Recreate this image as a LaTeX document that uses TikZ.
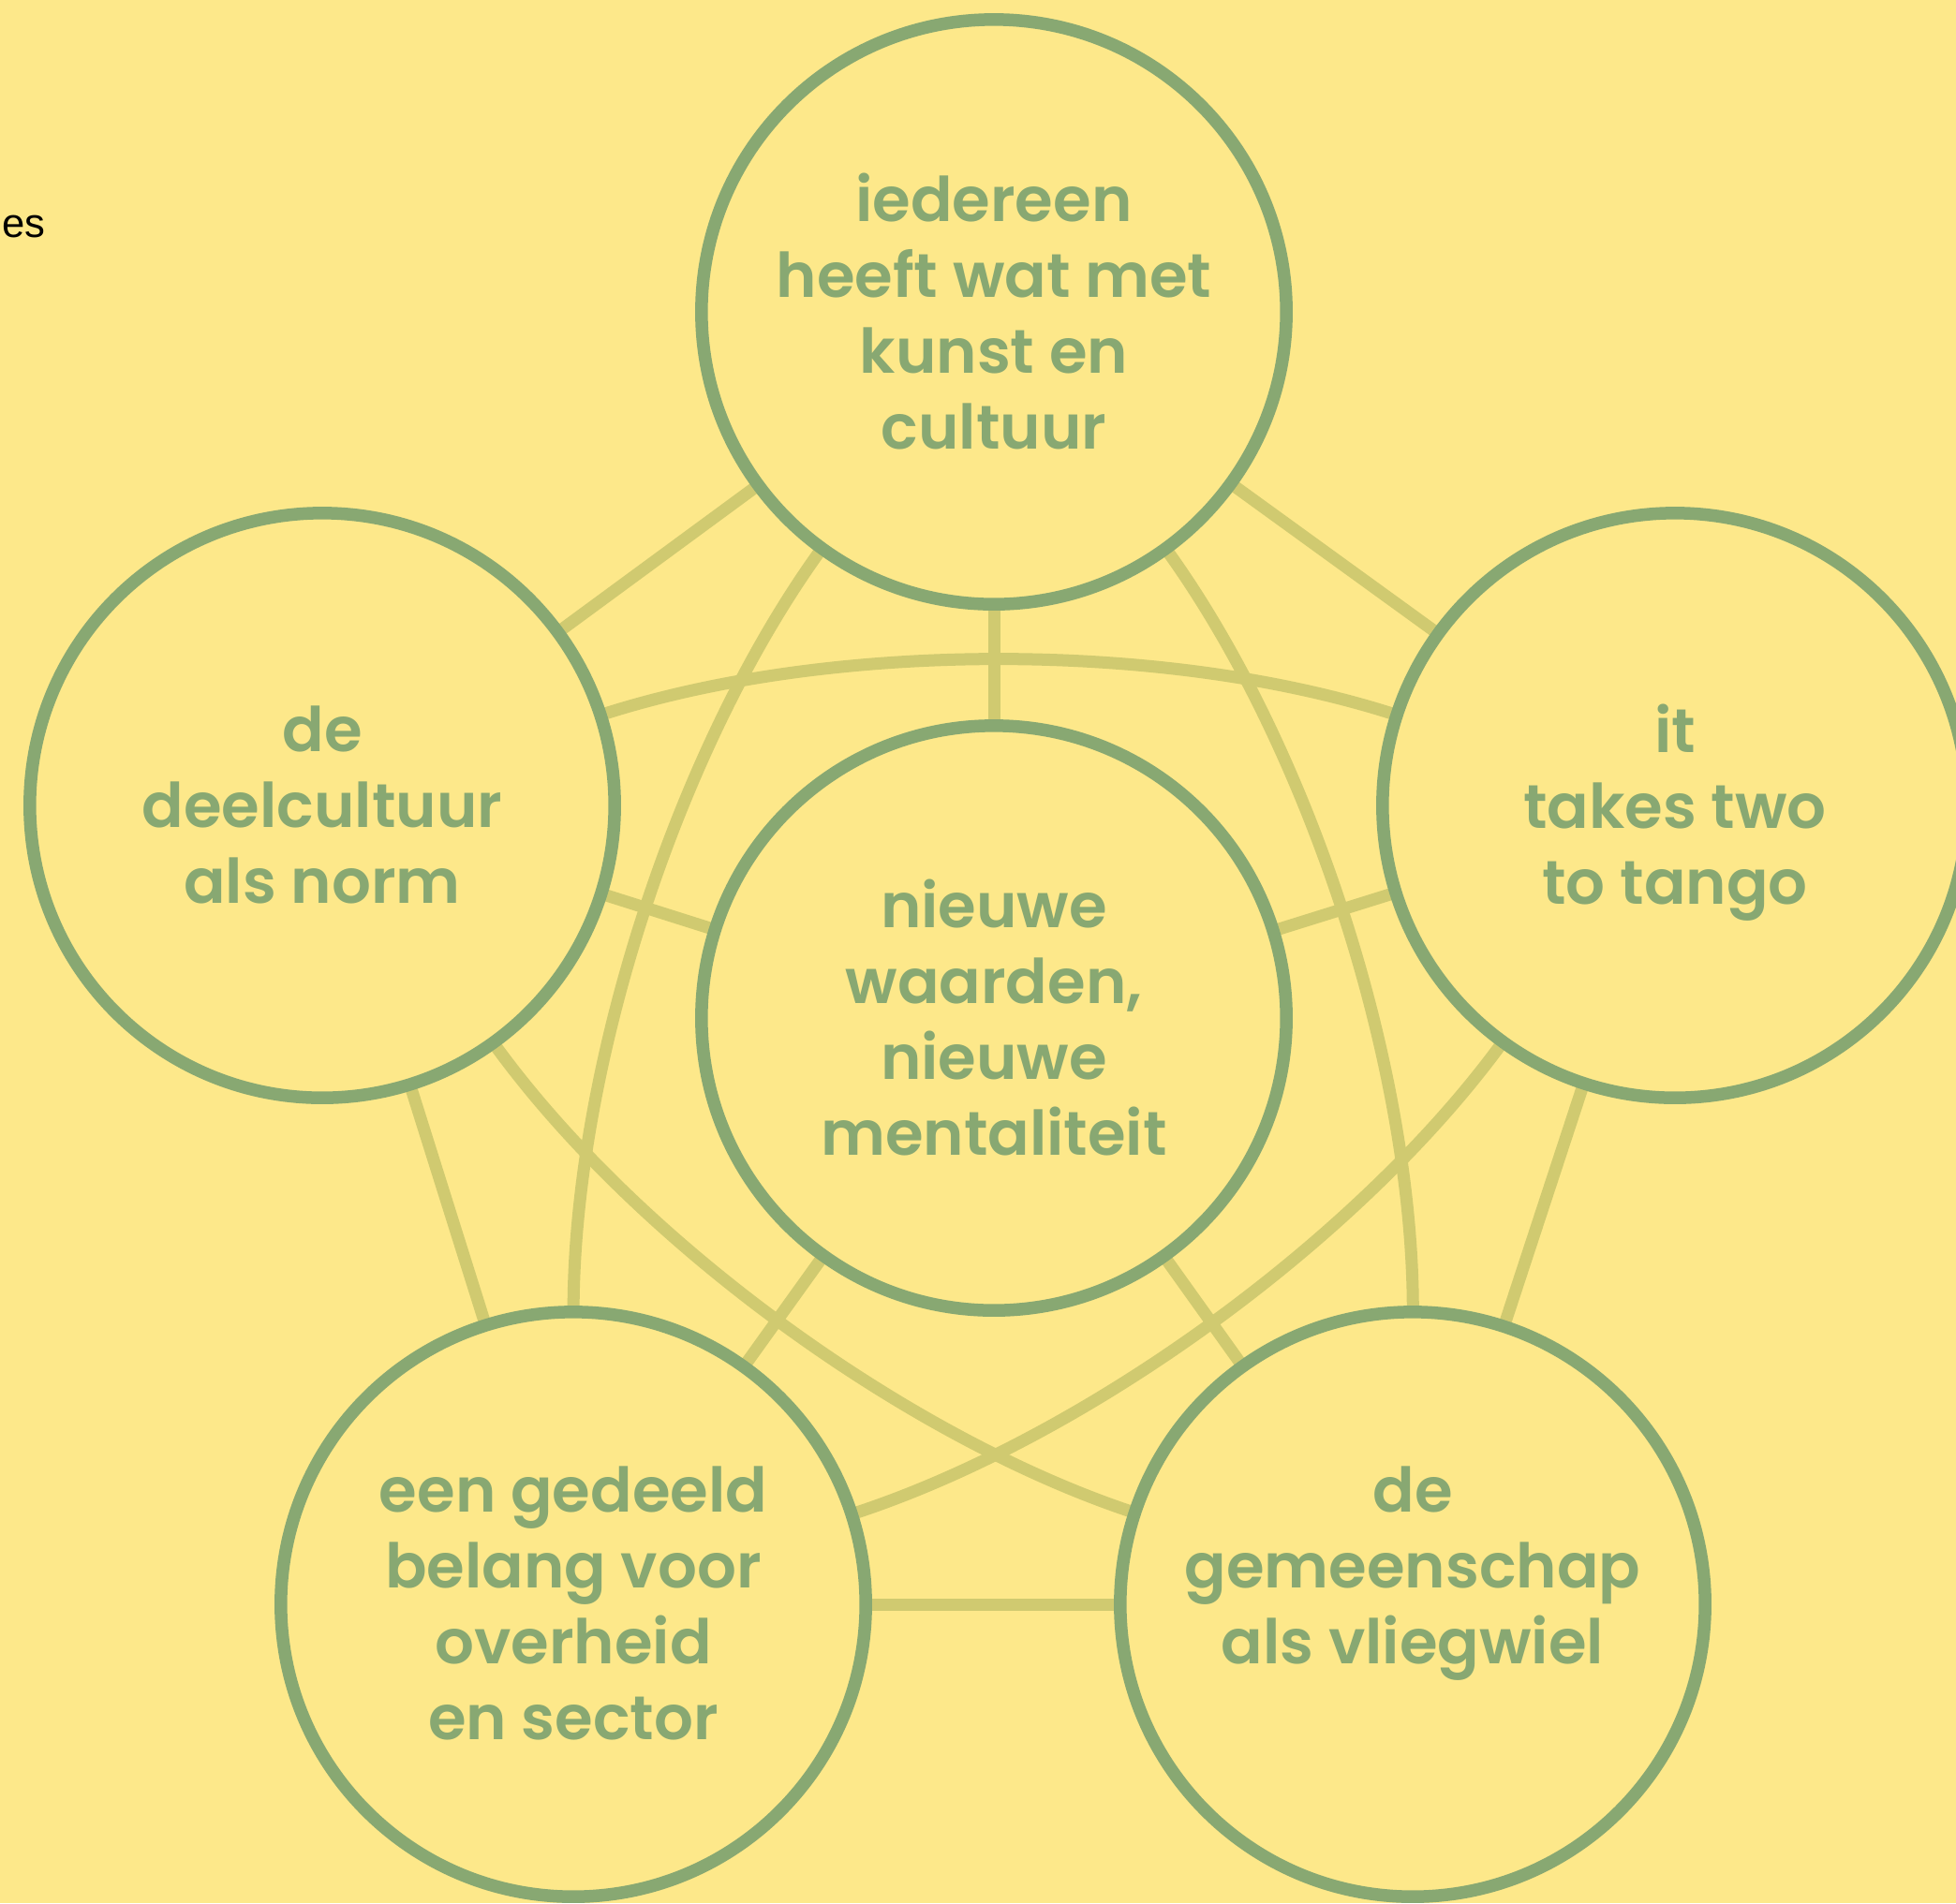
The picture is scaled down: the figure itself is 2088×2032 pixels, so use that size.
\documentclass[tikz,border=0pt]{standalone}
\usepackage{fontspec}
\setmainfont{Poppins}[BoldFont={Poppins SemiBold}]
\newfontfamily\esfont{Liberation Sans}
\definecolor{geel}{HTML}{FDE88A}
\definecolor{salie}{HTML}{88A872}
\definecolor{olijf}{HTML}{D0CA70}
\pgfdeclarelayer{achter}
\pgfdeclarelayer{lijnen}
\pgfsetlayers{achter,lijnen,main}
\newcommand\bovenrule{\rule{0pt}{20pt}}
\newcommand\onderrule{\rule[-5.8pt]{0pt}{5.8pt}}
\tikzset{
  pijler/.style={circle,draw=salie,line width=0.135cm,minimum size=6.24cm,
    inner sep=0pt,outer sep=0pt},
  tekst/.style={inner sep=0pt,text=salie,align=center,
    font=\bfseries\fontsize{18.7}{23}\selectfont,
    execute at begin node=\bovenrule,execute at end node=\onderrule},
  lijn/.style={draw=olijf,line width=0.13cm}
}
\begin{document}
\begin{tikzpicture}[x=0.01cm,y=-0.01cm]
\begin{pgfonlayer}{achter}
\fill[geel] (0,0) rectangle (2088,2032);
\end{pgfonlayer}
\useasboundingbox (0,0) rectangle (2088,2032);
\node[anchor=base west,inner sep=0pt,font=\esfont\fontsize{12.4}{14}\selectfont] (es) at (2,253) {es};

% de zes cirkels
\node[pijler] (top) at (1061,333) {};
\node[pijler] (left) at (344,860) {};
\node[pijler] (right) at (1788,860) {};
\node[pijler] (mid) at (1061,1087) {};
\node[pijler] (bl) at (612,1713) {};
\node[pijler] (br) at (1508,1713) {};

% teksten
\node[tekst] (top-t) at ([yshift=-2.6pt]top.center) {iedereen\\heeft wat met\\kunst en\\cultuur};
\node[tekst] (left-t) at ([yshift=-2.6pt]left.center) {de\\deelcultuur\\als norm};
\node[tekst] (right-t) at ([yshift=-2.6pt]right.center) {it\\takes two\\to tango};
\node[tekst] (mid-t) at ([yshift=-2.6pt]mid.center) {nieuwe\\waarden,\\nieuwe\\mentaliteit};
\node[tekst] (bl-t) at ([yshift=-2.6pt]bl.center) {een gedeeld\\belang voor\\overheid\\en sector};
\node[tekst] (br-t) at ([yshift=-2.6pt]br.center) {de\\gemeenschap\\als vliegwiel\\\mbox{}};

\begin{pgfonlayer}{lijnen}
% rand van de vijfhoek
\draw[lijn] (top) -- (left);
\draw[lijn] (top) -- (right);
\draw[lijn] (left) -- (bl);
\draw[lijn] (right) -- (br);
\draw[lijn] (bl) -- (br);
% spaken naar het midden
\foreach \n in {top,left,right,bl,br} {
	\draw[lijn] (mid) -- (\n);
}
% bogen van de ster
\foreach \a/\b in {top/br, br/left, left/right, right/bl, bl/top} {
	\draw[lijn] (\a) to[bend left=18,looseness=0.78] (\b);
}
\end{pgfonlayer}
\end{tikzpicture}
\end{document}
